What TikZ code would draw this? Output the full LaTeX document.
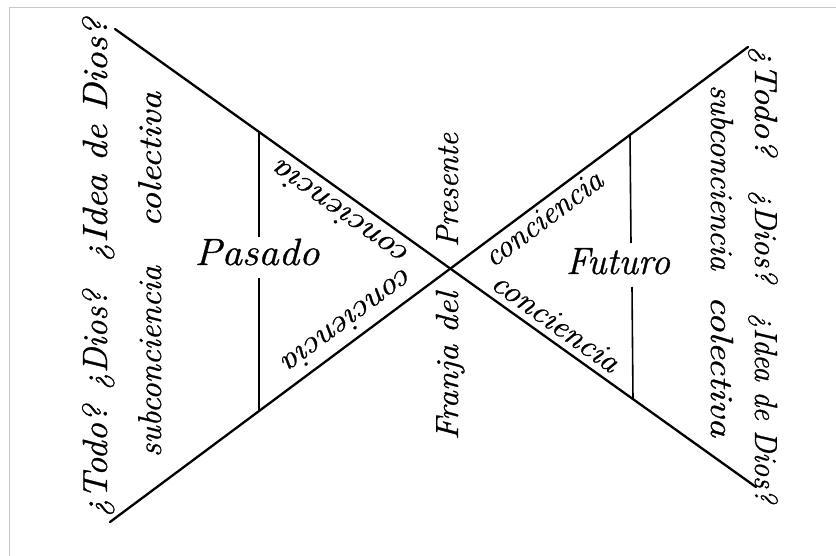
\documentclass[tikz,border=0pt]{standalone}
\usepackage{fontspec}
\setmainfont{Latin Modern Roman}[ItalicFeatures={FakeBold=0.8}]
\usetikzlibrary{calc}
\definecolor{framegray}{HTML}{C8C8C8}
% #1 font size, #2 target length, #3 text (stretched only along the line of text)
\newcommand{\hw}[3]{{\fontsize{#1}{#1}\selectfont\itshape\resizebox{#2pt}{\height}{#3}}}
\begin{document}
\begin{tikzpicture}[x=1pt,y=1pt,
  mainline/.style={line width=2.3pt, line cap=round},
  divline/.style={line width=1.6pt},
  lbl/.style={inner sep=0pt, outer sep=0pt},
  frameline/.style={line width=1.5pt, draw=framegray}]
\useasboundingbox (0,0) rectangle (836,-556);
\fill[white] (0,0) rectangle (836,-556);
\draw[frameline] (850,-7.5) -- (9.5,-7.5) -- (9.5,-570);

% main crossing lines
\coordinate (A) at (115,-29);
\coordinate (B) at (756,-487);
\coordinate (C) at (110,-522);
\coordinate (D) at (748,-47);
\draw[mainline] (A) -- (B);
\draw[mainline] (C) -- (D);

% vertical dividers
\coordinate (L1) at (259,-132);
\coordinate (L2) at (259,-237);
\coordinate (L3) at (259,-278);
\coordinate (L4) at (259,-410);
\coordinate (R1) at (630,-134);
\coordinate (R2) at (631,-243);
\coordinate (R3) at (632,-287);
\coordinate (R4) at (633,-399);
\draw[divline] (L1) -- (L2);
\draw[divline] (L3) -- (L4);
\draw[divline] (R1) -- (R2);
\draw[divline] (R3) -- (R4);

% left columns
\node[lbl, rotate=90, anchor=base] (todoL) at (107,-461) {\hw{35}{112}{¿Todo?}};
\node[lbl, rotate=90, anchor=base] (diosL) at (107,-340) {\hw{35}{100}{¿Dios?}};
\node[lbl, rotate=90, anchor=base] (ideaL) at (107,-140) {\hw{35}{244}{¿Idea de Dios?}};
\node[lbl, rotate=90, anchor=base] (subL) at (161,-361.5) {\hw{33}{191}{subconciencia}};
\node[lbl, rotate=90, anchor=base] (colL) at (161,-159.5) {\hw{33}{135}{colectiva}};

% centre
\node[lbl, rotate=90, anchor=base] (franja) at (458,-366) {\hw{32}{148}{Franja del}};
\node[lbl, rotate=90, anchor=base] (presente) at (458,-190) {\hw{32}{114}{Presente}};

% right columns
\node[lbl, rotate=-90, anchor=base] (todoR) at (755,-101) {\hw{32}{110}{¿Todo?}};
\node[lbl, rotate=-90, anchor=base] (diosR) at (755,-236.5) {\hw{32}{93}{¿Dios?}};
\node[lbl, rotate=-90, anchor=base] (ideaR) at (755,-408) {\hw{32}{190}{¿Idea de Dios?}};
\node[lbl, rotate=-90, anchor=base] (subR) at (711,-177.5) {\hw{32}{185}{subconciencia}};
\node[lbl, rotate=-90, anchor=base] (colR) at (711,-366.5) {\hw{32}{141}{colectiva}};

% Pasado / Futuro
\node[lbl, anchor=base] (pasado) at (257,-265) {\hw{38}{125}{Pasado}};
\node[lbl, anchor=base] (futuro) at (618,-274) {\hw{38}{104}{Futuro}};

% conciencia labels along the lines
\node[lbl, rotate=144.45] (con1) at (340,-214) {\hw{32}{160}{conciencia}};
\node[lbl, rotate=216.66] (con2) at (349,-321) {\hw{32}{155}{conciencia}};
\node[lbl, rotate=36.66] (con3) at (543,-218) {\hw{32}{140}{conciencia}};
\node[lbl, rotate=-35.55] (con4) at (556,-322) {\hw{32}{149}{conciencia}};
\end{tikzpicture}
\end{document}
